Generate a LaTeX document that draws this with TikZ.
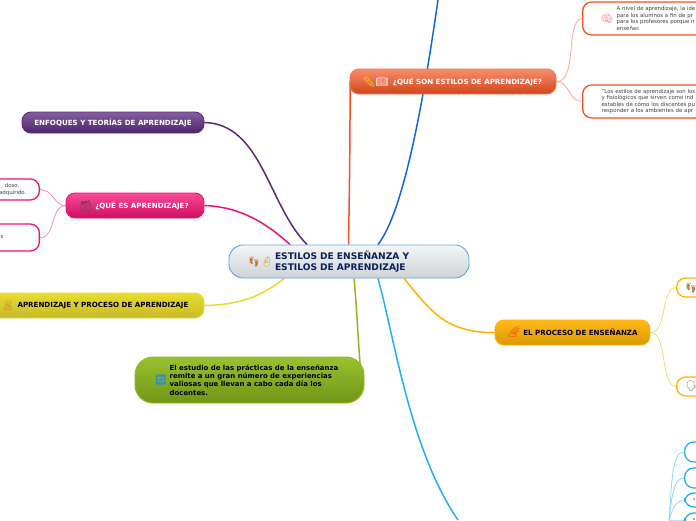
\documentclass[tikz,border=0pt]{standalone}
\usepackage{fontspec}
\setmainfont{DejaVu Sans}
\newfontfamily\emojifont{Noto Emoji}
\usetikzlibrary{backgrounds}
\definecolor{topiclight}{HTML}{F4F6F6}
\definecolor{topicdark}{HTML}{CDD3D6}
\definecolor{topicline}{HTML}{5BA9DC}
\definecolor{topicink}{HTML}{0B2158}
\definecolor{orangeline}{HTML}{F4511E}
\definecolor{purpleline}{HTML}{5B2A7E}
\definecolor{pinkline}{HTML}{F50F72}
\definecolor{yellowline}{HTML}{EADB2E}
\definecolor{greenline}{HTML}{8DBB1A}
\definecolor{goldline}{HTML}{FFB300}
\definecolor{blueline}{HTML}{1565D8}
\definecolor{skyline}{HTML}{1FB0F5}
\begin{document}
\begin{tikzpicture}[
    x=1pt, y=-1pt,
    font=\fontsize{7.1}{8.4}\selectfont\bfseries,
    topic/.style={
        rectangle,
        rounded corners=9pt,
        draw,
        line width=0.9pt,
        align=left,
        inner sep=0pt,
        minimum height=25pt
    },
    leaf/.style={
        rectangle,
        rounded corners=9pt,
        draw,
        line width=1.3pt,
        fill=white,
        align=left,
        inner sep=0pt,
        text=black!75,
        font=\fontsize{5.4}{6.4}\selectfont
    },
    icon/.style={font=\emojifont\fontsize{10}{10}\selectfont, inner sep=0pt},
    branch/.style={line width=1.5pt},
    twig/.style={line width=0.8pt}
]
\useasboundingbox (0,0) rectangle (696,520);

\node[topic, minimum width=240pt, minimum height=33pt, rounded corners=14pt, top color=topiclight, bottom color=topicdark, draw=topicline, text=topicink, font=\fontsize{9.1}{11.2}\selectfont\bfseries, text width=148pt] (centre) at (349,261.5) {ESTILOS DE ENSEÑANZA Y\\ESTILOS DE APRENDIZAJE};
\node[icon, text=brown] (feet) at (254,262) {👣};
\node[icon, text=orange!80!yellow] (baby) at (267,262) {👶};

\node[topic, minimum width=206pt, top color=orangeline!65!white, bottom color=orangeline!85!black, draw=orangeline!80, text=white] (whatstyles) at (453,81.5) {\hspace{29pt}¿QUÉ SON ESTILOS DE APRENDIZAJE?};
\node[icon, text=yellow!70!orange] (pencil) at (369,82) {✏};
\node[icon, text=white] (book) at (382,82) {📖};

\node[topic, minimum width=182pt, minimum height=21pt, top color=purpleline!75!white, bottom color=purpleline!85!black, draw=purpleline, text=white] (theories) at (113,122.5) {ENFOQUES Y TEORÍAS DE APRENDIZAJE};

\node[topic, minimum width=138pt, top color=pinkline!75!white, bottom color=pinkline!85!black, draw=pinkline, text=white] (whatlearn) at (135,205.5) {\hspace{14pt}¿QUÉ ES APRENDIZAJE?};
\node[icon, text=black!70] (drawer) at (86,206) {🗃};

\node[topic, minimum width=216pt, top color=yellowline, bottom color=yellowline!85!black, draw=yellowline, text=black] (process) at (96,305.5) {\hspace{14pt}APRENDIZAJE Y PROCESO DE APRENDIZAJE};
\node[icon, text=brown!80!orange] (bear) at (8,306) {🧸};

\node[topic, minimum width=229pt, minimum height=46pt, rounded corners=18pt, top color=greenline!90!white, bottom color=greenline!80!black, draw=greenline, text=black, font=\fontsize{6.95}{8.4}\selectfont\bfseries] (study) at (249.5,380) {\hspace*{9pt}El estudio de las prácticas de la enseñanza\\\hspace*{9pt}remite a un gran número de experiencias\\\hspace*{9pt}valiosas que llevan a cabo cada día los\\\hspace*{9pt}docentes.};
\node[icon, text=cyan!70!black] (sparkle) at (161,380) {🔄};

\node[topic, minimum width=155pt, top color=goldline!90!white, bottom color=goldline!85!black, draw=goldline, text=black] (teaching) at (572.5,332.5) {\hspace{16pt}EL PROCESO DE ENSEÑANZA};
\node[icon, text=red!70!orange] (rainbow) at (514,332) {🌈};

\node[leaf, draw=orangeline, anchor=west, minimum height=33pt, text width=102pt, inner xsep=34pt] (aim) at (582,18.5) {A nivel de aprendizaje, la ide\\para los alumnos a fin de pr\\para los profesores porque n\\enseñar.};
\node[icon, text=pink!70!red] (brain) at (607,19) {🧠};
\node[leaf, draw=orangeline, anchor=west, minimum height=33pt, text width=132pt, inner xsep=19pt] (quote) at (582,101.5) {"Los estilos de aprendizaje son los\\y fisiológicos que sirven como ind\\estables de cómo los discentes pu\\responder a los ambientes de apr};

\node[leaf, draw=pinkline, anchor=east, minimum width=90pt, minimum height=21pt, text width=77pt, align=right, inner xsep=13pt] (known) at (40,189.5) {doso.\hspace*{7pt}\mbox{}\\adquirido.};
\node[leaf, draw=pinkline, anchor=east, minimum width=90pt, minimum height=27pt, text width=86pt, align=right, inner xsep=2pt] (other) at (40,237.5) {s\hspace*{34pt}};

\node[leaf, draw=goldline, anchor=west, minimum width=60pt, minimum height=19pt] (goldone) at (676,287.5) {};
\node[icon, text=brown] (goldfeet) at (691,288) {👣};
\node[leaf, draw=goldline, anchor=west, minimum width=60pt, minimum height=19pt] (goldtwo) at (676,386.5) {};
\node[icon, text=black!65] (goldhead) at (692,386) {🗣};

\node[leaf, draw=skyline, anchor=west, minimum width=60pt, minimum height=20pt] (skyone) at (684,452) {};
\node[leaf, draw=skyline, anchor=west, minimum width=60pt, minimum height=20pt] (skytwo) at (684,478) {};
\node[leaf, draw=skyline, anchor=west, minimum width=60pt, minimum height=14pt, text width=48pt, inner xsep=8pt] (skythree) at (684,500) {•};
\node[leaf, draw=skyline, anchor=west, minimum width=60pt, minimum height=14pt, text width=48pt, inner xsep=8pt] (skyfour) at (684,520) {•};

\coordinate (topend) at (438,0);
\coordinate (bottomend) at (458,520);
\coordinate (skyroot) at (669,520);

\begin{pgfonlayer}{background}
\draw[branch, blueline] ([xshift=29pt]centre.north) .. controls (405,210) and (425,90) .. (topend);
\draw[branch, orangeline] ([xshift=0.6pt]whatstyles.west) .. controls (350,140) and (349.5,190) .. ([xshift=-0.5pt]centre.north);
\draw[branch, purpleline] (theories.east) .. controls (262,124) and (268,205) .. ([xshift=-42pt]centre.north);
\draw[branch, pinkline] (whatlearn.east) .. controls (240,207) and (265,222) .. ([xshift=-59pt]centre.north);
\draw[branch, yellowline] (process.east) .. controls (240,305) and (262,296) .. ([xshift=-65pt]centre.south);
\draw[branch, greenline] ([xshift=5pt]centre.south) .. controls (357,310) and (358,340) .. ([xshift=-4pt,yshift=12pt]study.east);
\draw[branch, skyline] ([xshift=29pt]centre.south) .. controls (395,340) and (410,450) .. (bottomend);
\draw[branch, goldline] ([xshift=55pt]centre.south) .. controls (430,310) and (445,333) .. (teaching.west);

\draw[twig, orangeline!50] (whatstyles.east) .. controls (578,82) and (565,20) .. (aim.west);
\draw[twig, orangeline!50] (whatstyles.east) .. controls (570,82) and (568,101) .. (quote.west);
\draw[twig, pinkline!50] (whatlearn.west) .. controls (54,206) and (54,190) .. (known.east);
\draw[twig, pinkline!50] (whatlearn.west) .. controls (50,206) and (56,238) .. (other.east);
\draw[twig, goldline!55] (teaching.east) .. controls (668,332) and (660,288) .. (goldone.west);
\draw[twig, goldline!55] (teaching.east) .. controls (668,332) and (660,387) .. (goldtwo.west);
\draw[twig, skyline!50] (skyroot) .. controls (672,480) and (672,452) .. (skyone.west);
\draw[twig, skyline!50] (skyroot) .. controls (672,495) and (674,478) .. (skytwo.west);
\draw[twig, skyline!50] (skyroot) .. controls (672,510) and (676,500) .. (skythree.west);
\draw[twig, skyline!50] (skyroot) .. controls (672,520) and (678,520) .. (skyfour.west);
\end{pgfonlayer}
\end{tikzpicture}
\end{document}
